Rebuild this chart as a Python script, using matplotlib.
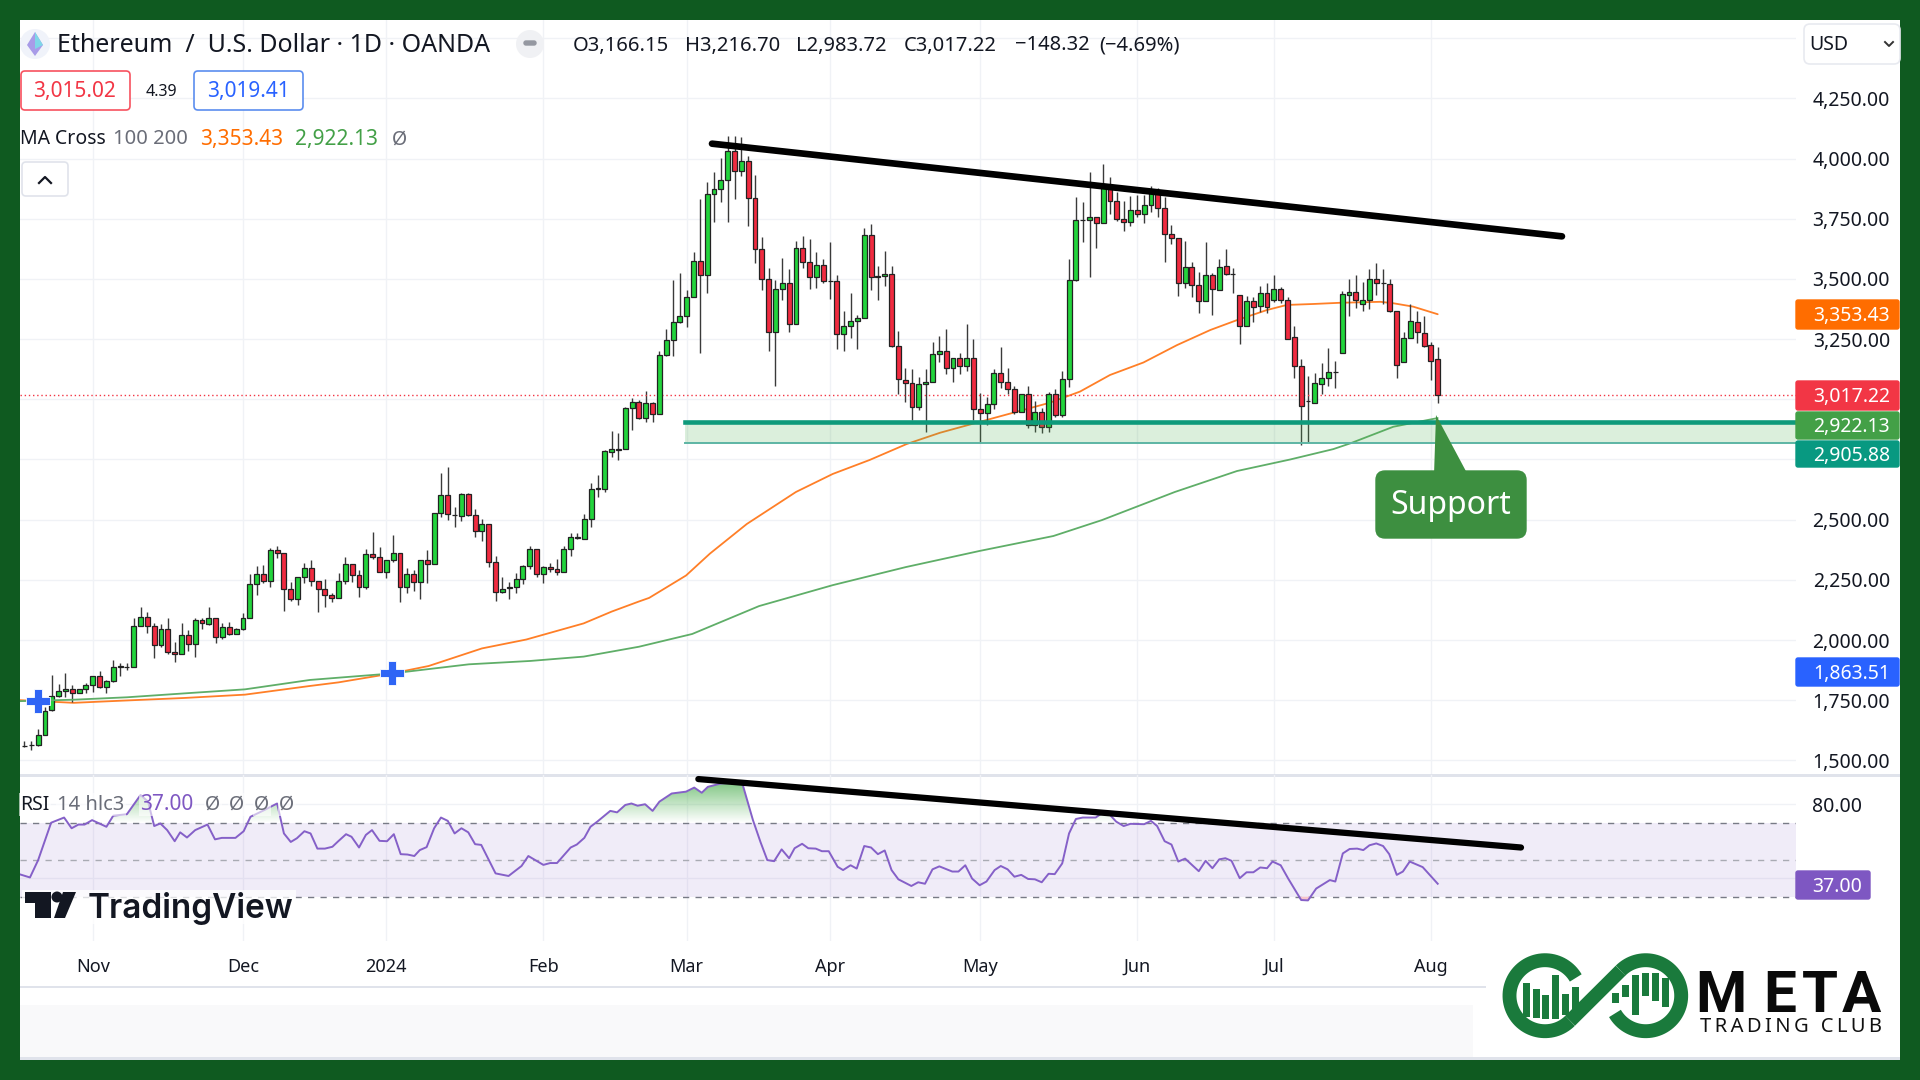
# ETH/USD daily chart with MA cross and RSI pane
import numpy as np
import matplotlib
matplotlib.use('Agg')
import matplotlib.pyplot as plt
from matplotlib.patches import Rectangle, FancyBboxPatch, Polygon, Circle, PathPatch
from matplotlib.path import Path

plt.rcParams['font.family'] = ['Noto Sans', 'DejaVu Sans']

# candles, one row of values per day
opens = [1558,1563,1563,1605,1709,1768,1788,1798,1778,1798,1811,1852,1803,1829,1889,1889,1886,2058,2097,2059,
         1979,2044,1951,1942,2022,1983,2083,2068,2091,2011,2052,2026,2044,2091,2231,2273,2245,2372,2363,2213,
         2170,2260,2298,2246,2213,2185,2176,2246,2316,2270,2221,2357,2343,2282,2334,2363,2221,2273,2241,2334,
         2314,2526,2601,2520,2516,2606,2520,2451,2483,2325,2198,2218,2219,2255,2307,2376,2273,2302,2293,2282,
         2376,2424,2421,2503,2628,2627,2782,2791,2792,2965,2987,2924,2983,2937,3184,3245,3320,3347,3426,3576,
         3515,3852,3875,3912,4030,3950,3991,3838,3623,3501,3278,3460,3482,3311,3627,3572,3507,3558,3493,3493,
         3273,3306,3324,3338,3684,3511,3511,3520,3221,3080,3066,2969,3062,3070,3188,3202,3129,3173,3138,3173,
         2961,2942,2982,3108,3072,3044,2946,3020,2892,2949,2886,3020,2936,3086,3495,3745,3745,3759,3731,3883,
         3824,3749,3735,3786,3768,3806,3860,3796,3688,3670,3483,3548,3473,3408,3515,3455,3552,3521,3432,3306,
         3408,3389,3440,3412,3459,3412,3259,3137,2994,2983,3062,3090,3113,3194,3432,3444,3394,3412,3501,3483,
         3477,3365,3156,3253,3320,3274,3225,3166]
highs = [1581,1581,1629,1723,1854,1817,1864,1813,1798,1820,1852,1872,1834,1917,1903,1906,2090,2136,2116,2069,
         2066,2092,1990,2069,2041,2090,2090,2136,2091,2072,2073,2048,2111,2274,2309,2311,2383,2392,2363,2242,
         2260,2318,2331,2246,2252,2194,2280,2346,2316,2291,2378,2447,2388,2334,2435,2363,2298,2291,2334,2374,
         2526,2692,2717,2551,2612,2612,2545,2504,2483,2349,2260,2242,2280,2311,2392,2376,2307,2321,2335,2390,
         2443,2446,2522,2653,2685,2789,2868,2858,2969,3004,2997,3036,2990,3201,3292,3496,3523,3454,3610,3831,
         3901,3943,4004,4094,4094,4088,4012,3932,3676,3544,3496,3586,3540,3658,3680,3666,3610,3583,3652,3516,
         3368,3443,3350,3710,3728,3555,3616,3555,3284,3129,3126,3094,3124,3237,3264,3292,3173,3191,3313,3250,
         3027,3008,3126,3219,3129,3057,3020,3057,2993,2962,3032,3041,3119,3581,3839,3821,3946,3759,3976,3922,
         3862,3825,3845,3849,3849,3886,3876,3842,3723,3670,3659,3572,3530,3652,3526,3581,3624,3544,3432,3429,
         3423,3471,3484,3518,3465,3423,3306,3166,3097,3110,3149,3213,3159,3448,3498,3516,3489,3540,3565,3540,
         3498,3365,3281,3394,3368,3347,3239,3217]
lows = [1557,1543,1561,1605,1706,1764,1764,1744,1778,1781,1785,1799,1778,1827,1852,1875,1886,2058,2030,1926,
        1969,1942,1907,1942,1955,1931,2044,2062,1986,2003,2020,2025,2041,2090,2187,2235,2221,2342,2122,2163,
        2145,2235,2224,2118,2137,2159,2176,2231,2242,2177,2210,2336,2282,2257,2323,2159,2196,2205,2169,2235,
        2314,2509,2498,2468,2496,2515,2426,2413,2304,2163,2196,2169,2196,2232,2296,2263,2238,2284,2268,2282,
        2350,2418,2418,2471,2593,2616,2761,2748,2792,2872,2918,2907,2907,2937,3180,3181,3316,3302,3426,3191,
        3440,3738,3821,3738,3832,3929,3720,3565,3454,3202,3057,3413,3281,3311,3544,3458,3464,3482,3417,3209,
        3202,3253,3209,3338,3454,3413,3472,3219,3022,2990,2914,2955,2865,3070,3154,3105,3070,3104,3119,2914,
        2817,2893,2960,3048,3022,2937,2946,2879,2865,2861,2865,2928,2928,3052,3491,3655,3509,3627,3731,3770,
        3742,3700,3720,3756,3734,3779,3756,3569,3645,3430,3464,3426,3360,3408,3350,3454,3516,3443,3228,3306,
        3322,3361,3360,3405,3399,3249,3088,2810,2822,2983,3020,3056,3047,3194,3347,3378,3368,3374,3433,3396,
        3361,3090,3156,3253,3232,3218,3080,2984]
closes = [1560,1565,1605,1706,1768,1788,1798,1778,1798,1811,1852,1803,1829,1889,1890,1887,2058,2097,2058,1979,
          2044,1951,1942,2022,1983,2083,2069,2093,2011,2054,2026,2044,2091,2231,2273,2245,2372,2363,2213,2170,
          2260,2298,2246,2213,2185,2176,2246,2316,2270,2221,2357,2343,2282,2334,2363,2221,2273,2241,2334,2314,
          2526,2601,2522,2518,2606,2519,2451,2483,2325,2199,2213,2219,2255,2307,2376,2273,2302,2293,2282,2376,
          2426,2426,2501,2629,2630,2784,2792,2793,2965,2987,2924,2983,2937,3184,3245,3320,3347,3426,3576,3515,
          3852,3875,3912,4030,3950,3991,3838,3623,3501,3278,3460,3482,3311,3627,3572,3507,3558,3493,3492,3273,
          3306,3324,3338,3684,3507,3510,3520,3221,3083,3066,2969,3062,3070,3188,3202,3129,3173,3138,3173,2961,
          2942,2982,3108,3072,3044,2946,3020,2892,2949,2886,3020,2936,3086,3497,3745,3746,3759,3731,3883,3824,
          3749,3735,3786,3768,3806,3860,3796,3688,3670,3483,3548,3473,3408,3515,3459,3548,3520,3520,3306,3408,
          3385,3440,3382,3459,3414,3252,3137,2973,2993,3068,3090,3113,3114,3436,3444,3412,3412,3501,3482,3482,
          3368,3141,3253,3324,3278,3221,3160,3017]

# moving averages, picked up along each curve
ma100_idx = [-0.66,7.2,14.3,23.3,32.3,41.8,46,53.8,59.2,67,73.5,81.9,86,90,91.5,96.9,100.4,105.8,113,118.4,123.8,
             129.2,134.1,140,144.8,150.2,154.6,159,163.9,168.8,173.7,177.6,182,184.9,188.8,192.7,198.6,200.5,203.4,207]
ma100_val = [1750,1739,1748,1759,1773,1809,1824,1861,1892,1965,2002,2069,2118,2160,2175,2268,2359,2482,2615,2690,2748,
             2814,2861,2907,2944,2986,3032,3101,3153,3225,3288,3329,3371,3392,3396,3401,3405,3399,3385,3353.43]
ma200_idx = [-0.66,7.2,15,23.3,32.3,41.8,53.8,65.1,74.1,81.9,90,97.8,107.6,118.4,129.1,139.9,150.7,157.8,168.5,177.6,
             185.4,191.7,194.2,200.5,207]
ma200_val = [1746,1752,1762,1778,1795,1834,1861,1899,1913,1931,1972,2025,2141,2228,2303,2370,2432,2498,2615,2702,
             2750,2793,2817,2886,2922.13]
cross_idx = [2, 53.8]
cross_val = [1747, 1863.51]

rsi_idx = [-0.6,0.8,2,3.9,5.8,6.9,7.9,8.8,9.9,12,13,15,17,18.1,19,19.9,20.9,22,22.8,23.8,25,26.8,27.9,28.9,30.9,32.1,33.1,
           35.1,37,38,39,39.9,41,41.9,42.9,44,45.1,45.9,47.1,47.9,49,50,50.9,52,53.1,54.1,55.1,56.1,57.1,57.9,58.9,60,61,
           62,63,64,65,66,66.9,69,70.9,72.8,73.8,76,77,78,80,80.9,82,82.9,83.9,85.8,86.8,88,88.9,89.8,90.9,92,93,94.8,96.9,
           98.1,99.2,100.1,102,105.1,106.7,107.8,108.8,109.8,110.9,112,112.8,113.9,114.8,115.9,116.8,117.8,119.1,119.9,
           121,121.9,123,124,125,126,127,128,129.9,130.9,131.9,133,134,135.9,136.8,137.8,138.8,139.9,140.9,142.1,143,144,
           145,146,147,148,149,150,150.9,152,153,154,155,156.9,158,159,159.9,161,162,164,165,165.9,167,168,169,170,172,173,
           174,175,175.9,176.8,178,179,180,181,182,182.8,184,185.1,187,188,189.2,191.2,192,193.1,194.1,195.2,196.1,197,
           198,199,199.9,201,201.9,202.9,204.8,207]
rsi_val = [42,40.4,49.8,70,72.8,67,69,69,71.4,67.8,73.8,74.6,85,81.4,68.2,69.6,66,60,64.8,62,66,69,61,61.8,61.8,65.4,73.2,
           76.8,80.4,64.2,59.6,61.6,65.4,64.2,56,56,57,59.8,63.8,62.4,56.6,63.4,66,60.2,60,63.8,53,52.8,52,55.2,56.8,67,72.8,
           71,64.2,67,64.8,58.4,58,42.6,41.2,46.6,52,47.2,48.2,48.2,56.6,58.2,61.8,67.8,70.6,76.4,75.6,79.6,80.4,79.2,80,
           76.4,81.4,85.8,86.8,89,86.2,89.4,91.2,91.8,71.4,59.6,49.8,49.2,55.6,50.8,56.2,58.6,56.2,56,54.6,54.6,46.2,44.4,
           47,45.2,57.4,56.6,53,55,44.4,39.4,35.8,37.8,37,44.8,46.4,43.6,43.6,47,39.8,36.2,38.2,44.4,46.6,44.8,
           40.8,41.8,39.6,39.4,37.8,42.4,42.2,48,64.2,72,72.8,72.8,75.6,74.2,70.6,68.2,69.4,69.2,71,68.2,60,58.2,49,50.6,43.8,49.4,
           45.4,50.2,50.8,49.4,40,43.2,43.2,45.8,45.4,49,47,39.8,28.2,28,34.4,39,38.2,53.4,55.8,56,55.2,57.8,
           58.8,57.4,53,41.8,43.6,49,46,37]

price_ticks = [1500,1750,2000,2250,2500,2750,3000,3250,3500,3750,4000,4250,4500]
price_labels = ['1,500.00','1,750.00','2,000.00','2,250.00','2,500.00','','','3,250.00','3,500.00','3,750.00','4,000.00','4,250.00','']
month_idx = [10,32,53,76,97,118,140,163,183,206]
month_labels = ['Nov','Dec','2024','Feb','Mar','Apr','May','Jun','Jul','Aug']

last_price = 3017.22
zone_top, zone_bottom = 2905.88, 2817
zone_start = 96.7
price_trend_idx = [100.7, 225.2]
price_trend_val = [4062, 3677]
rsi_trend_idx = [98.7, 219.2]
rsi_trend_val = [93.6, 56.6]

W, H = 1920, 1080
DARK = '#131722'
GREY = '#6A6D78'
GRID = '#F0F2F6'
FRAME = '#0F5A20'
LAV = '#E0E3EB'


def pane(x0, y0, x1, y1, z):
    a = fig.add_axes([x0/W, 1-y1/H, (x1-x0)/W, (y1-y0)/H], zorder=z)
    a.patch.set_alpha(0)
    for s in a.spines.values():
        s.set_visible(False)
    return a


def tag(x0, y0, x1, y1, color, label, right):
    ov.add_patch(FancyBboxPatch((x0, y0+1), x1-x0-2, y1-y0-2, boxstyle='round,pad=0,rounding_size=2', fc=color, ec=color, lw=1))
    ov.text(right, (y0+y1)/2-1, label, color='white', fontsize=14, ha='right', va='center_baseline', fontweight='semibold')


fig = plt.figure(figsize=(W/100, H/100), dpi=100, facecolor=FRAME)

# white page and the strips under the chart
bg = pane(0, 0, W, H, 0)
bg.set_xlim(0, W)
bg.set_ylim(H, 0)
bg.axis('off')
bg.add_patch(Rectangle((20, 20), 1880, 1040, fc='white', ec='none'))
bg.add_patch(Rectangle((20, 1005), 1453, 52, fc='#F9F9FA', ec='none'))
bg.add_patch(Rectangle((20, 1057), 1880, 3, fc=LAV, ec='none'))
bg.add_patch(Rectangle((20, 986), 1466, 2, fc=LAV, ec='none'))
bg.add_patch(Rectangle((20, 774), 1880, 2.5, fc=LAV, ec='none'))

# price pane
ax = pane(20, 20, 1796, 774, 1)
idx = np.arange(len(opens))
o = np.array(opens, dtype=float)
c = np.array(closes, dtype=float)
up = c >= o
ax.vlines(month_idx, 1000, 5000, color=GRID, lw=1, zorder=1)
ax.hlines(price_ticks, -5, 300, color=GRID, lw=1, zorder=1)
ax.plot(ma100_idx, ma100_val, color='#FF7F27', lw=1.3, zorder=2, solid_capstyle='round')
ax.vlines(idx, lows, highs, color='#3A3A3A', lw=1, zorder=3)
ax.bar(idx[up], (c-o)[up], bottom=o[up], width=0.72, color='#22D43C', edgecolor='#222222', lw=0.9, zorder=4)
ax.bar(idx[~up], (c-o)[~up], bottom=o[~up], width=0.72, color='#F02B40', edgecolor='#222222', lw=0.9, zorder=4)
ax.plot(ma200_idx, ma200_val, color='#5FAE68', lw=1.3, zorder=5, solid_capstyle='round')
ax.axhline(last_price, color='#F23645', lw=1, ls=(0, (1, 2)), zorder=3)
ax.add_patch(Rectangle((zone_start, zone_bottom), 300, zone_top-zone_bottom, fc='#4CAF50', alpha=0.2, ec='none', zorder=5))
ax.plot([zone_start, 300], [zone_bottom, zone_bottom], color='#5DB5A4', lw=1.4, zorder=5)
ax.plot([zone_start, 300], [zone_top, zone_top], color='#0E9A7B', lw=3.3, zorder=6)
ax.plot(price_trend_idx, price_trend_val, color='black', lw=4.8, solid_capstyle='round', zorder=7)
ax.plot(cross_idx, cross_val, ls='none', marker='P', ms=17, color='#2F65F5', mec='white', mew=0.6, zorder=8)
ax.set_xlim(-0.659, 259.48)
ax.set_ylim(1443.3, 4575.8)
ax.yaxis.tick_right()
ax.set_yticks(price_ticks)
ax.set_yticklabels(price_labels, ha='right', va='center_baseline', color=DARK, fontsize=14)
ax.tick_params(axis='y', length=0, pad=67.7)
ax.set_xticks([])

# rsi pane
rx = pane(20, 775, 1796, 941, 1)
rsi_x = np.array(rsi_idx)
rsi_y = np.array(rsi_val)
rx.vlines(month_idx, 0, 100, color=GRID, lw=1, zorder=1)
rx.hlines([40, 80], -5, 300, color=GRID, lw=1, zorder=1)
rx.axhspan(30, 70, fc='#7E57C2', alpha=0.11, ec='none', zorder=1)
for lvl in [70, 50, 30]:
    rx.axhline(lvl, color='#787B86' if lvl != 50 else '#A9ABB3', lw=1, ls=(0, (4.5, 4.5)), zorder=2)
grad = np.zeros((64, 2, 4))
grad[..., :3] = matplotlib.colors.to_rgb('#4CAF50')
grad[..., 3] = np.linspace(0.72, 0, 64)[:, None]
im = rx.imshow(grad, extent=[-1, 260, 70, 92.5], aspect='auto', zorder=2, interpolation='bilinear')
above = rx.fill_between(rsi_x, rsi_y, 70, where=rsi_y > 70, interpolate=True, facecolor='none', edgecolor='none')
im.set_clip_path(PathPatch(Path.make_compound_path(*above.get_paths()), transform=rx.transData))
rx.fill_between(rsi_x, rsi_y, 30, where=rsi_y < 30, interpolate=True, facecolor='#F7C5CB', edgecolor='none', zorder=2)
rx.plot(rsi_x, rsi_y, color='#8560C8', lw=1.4, zorder=3)
rx.plot(rsi_trend_idx, rsi_trend_val, color='black', lw=4.5, solid_capstyle='round', zorder=4, clip_on=False)
rx.set_xlim(-0.659, 259.48)
rx.set_ylim(6.05, 95.8)
rx.set_yticks([])
rx.set_xticks(month_idx)
rx.set_xticklabels(month_labels, color=DARK, fontsize=13)
rx.get_xticklabels()[2].set_fontweight('bold')
rx.tick_params(axis='x', length=0, pad=12)

# overlay in pixels for tags, legends and logos
ov = pane(0, 0, W, H, 5)
ov.set_xlim(0, W)
ov.set_ylim(H, 0)
ov.axis('off')

tag(1796, 299, 1901, 330, '#FF6D00', '3,353.43', 1890)
tag(1796, 380, 1901, 411, '#F23645', '3,017.22', 1890)
tag(1796, 411, 1901, 440, '#43A047', '2,922.13', 1890)
tag(1796, 440, 1901, 468, '#089981', '2,905.88', 1890)
tag(1796, 657, 1901, 687, '#2962FF', '1,863.51', 1890)
tag(1796, 870, 1872, 900, '#7E57C2', '37.00', 1862)
ov.text(1862, 804, '80.00', color=DARK, fontsize=14, ha='right', va='center_baseline')

# header
ov.add_patch(Circle((35, 44), 15, fc='#F0F3FA', ec='none'))
ov.add_patch(Polygon([(35, 32), (43, 45), (35, 56), (27, 45)], fc='#A89BE8', ec='none'))
ov.add_patch(Polygon([(35, 32), (43, 45), (35, 49)], fc='#7FD6E8', ec='none'))
ov.text(57, 42, 'Ethereum  /  U.S. Dollar · 1D · OANDA', color=DARK, fontsize=18, va='center_baseline')
ov.add_patch(Circle((530, 44), 14, fc='#F0F1F4', ec='none'))
ov.add_patch(FancyBboxPatch((524, 41), 12, 4, boxstyle='round,pad=0,rounding_size=2', fc='#9598A1', ec='#9598A1', lw=1))
for x, s in [(572.6, 'O3,166.15'), (685.4, 'H3,216.70'), (796.5, 'L2,983.72'), (904, 'C3,017.22'), (1014.5, '−148.32'), (1099, '(−4.69%)')]:
    ov.text(x, 43, s, color=DARK, fontsize=14.5, va='center_baseline')

ov.add_patch(FancyBboxPatch((21, 71), 109, 39, boxstyle='round,pad=0,rounding_size=4', fc='white', ec='#F7525F', lw=1.2))
ov.text(75, 89.5, '3,015.02', color='#F23645', fontsize=15, ha='center', va='center_baseline')
ov.text(161, 89.5, '4.39', color=DARK, fontsize=11.5, ha='center', va='center_baseline')
ov.add_patch(FancyBboxPatch((194, 71), 109, 39, boxstyle='round,pad=0,rounding_size=4', fc='white', ec='#5B8DEF', lw=1.2))
ov.text(248, 89.5, '3,019.41', color='#2962FF', fontsize=15, ha='center', va='center_baseline')

ov.text(20, 137, 'MA Cross', color=DARK, fontsize=14, va='center_baseline')
ov.text(113, 137, '100 200', color=GREY, fontsize=14.5, va='center_baseline')
ov.text(200, 137, '3,353.43', color='#FF6D00', fontsize=15, va='center_baseline')
ov.text(295, 137, '2,922.13', color='#43A047', fontsize=15, va='center_baseline')
ov.text(392, 137, 'Ø', color=GREY, fontsize=14, va='center_baseline')
ov.add_patch(FancyBboxPatch((22, 162), 46, 34, boxstyle='round,pad=0,rounding_size=4', fc='white', ec=LAV, lw=1.2))
ov.plot([39, 45, 51], [183, 177, 183], color=DARK, lw=1.6)

# currency selector
ov.add_patch(FancyBboxPatch((1804, 24), 96, 40, boxstyle='round,pad=0,rounding_size=6', fc='white', ec='#E8EAF0', lw=1.2))
ov.text(1809, 43, 'USD', color=DARK, fontsize=14, va='center_baseline')
ov.plot([1885, 1889, 1893], [42, 46, 42], color='#333333', lw=1.4)

# rsi legend
leg_box = dict(fc='white', ec='none', alpha=0.6, pad=1)
ov.text(20, 802, 'RSI', color=DARK, fontsize=14, va='center_baseline', bbox=leg_box)
ov.text(57, 802, '14 hlc3', color=GREY, fontsize=14.5, va='center_baseline', bbox=leg_box)
ov.text(140, 802, '37.00', color='#7E57C2', fontsize=15, va='center_baseline', bbox=leg_box)
for x in [205, 229, 254, 279]:
    ov.text(x, 802, 'Ø', color=GREY, fontsize=14, va='center_baseline', bbox=leg_box)

# TradingView mark
ov.add_patch(Rectangle((22, 890), 274, 34, fc='white', alpha=0.75, ec='none'))
ov.add_patch(Polygon([(25, 892), (51, 892), (51, 918), (35, 918), (35, 903), (25, 903)], fc=DARK, ec='none'))
ov.add_patch(Circle((57, 897), 5.5, fc=DARK, ec='none'))
ov.add_patch(Polygon([(63, 892), (76, 892), (65, 918), (54, 918)], fc=DARK, ec='none'))
ov.text(88, 905, 'TradingView', color=DARK, fontsize=24, fontweight='semibold', family=['Inter', 'DejaVu Sans'], va='center_baseline')

# support callout
ov.add_patch(Polygon([(1436, 415), (1434, 475), (1468, 475)], fc='#3D8F40', ec='none'))
ov.add_patch(FancyBboxPatch((1376, 471), 150, 67, boxstyle='round,pad=0,rounding_size=9', fc='#3D8F40', ec='#3D8F40', lw=1))
ov.text(1451, 501, 'Support', color='white', fontsize=23, ha='center', va='center_baseline')

# Meta Trading Club logo
ov.add_patch(Rectangle((1486, 920), 414, 137, fc='white', ec='none'))
LOGO = '#1A7A3C'
lx, rx_c, ly, rr = 1545, 1645.7, 995.7, 35.5
t1 = np.radians(np.linspace(30, 315, 80))
t2 = np.radians(np.linspace(135, -150, 80))
ov.plot(lx+rr*np.cos(t1), ly-rr*np.sin(t1), color=LOGO, lw=10, solid_capstyle='butt')
ov.plot(rx_c+rr*np.cos(t2), ly-rr*np.sin(t2), color=LOGO, lw=10, solid_capstyle='butt')
ov.plot([lx+rr*np.cos(np.radians(315)), rx_c+rr*np.cos(np.radians(135))],
        [ly-rr*np.sin(np.radians(315)), ly-rr*np.sin(np.radians(135))], color=LOGO, lw=10, solid_capstyle='butt')
for x, top, bot in [(1523, 983, 1017), (1533, 989, 1018), (1542, 995, 1019), (1552, 975, 1019), (1562, 994, 1015), (1572, 987, 1010)]:
    ov.add_patch(Rectangle((x, top), 7, bot-top, fc=LOGO, ec='none'))
for x, top, bot in [(1612, 993, 1003), (1622, 985, 997), (1632, 975, 1015), (1642, 973, 996), (1652, 973, 1001), (1662, 978, 1007)]:
    ov.add_patch(Rectangle((x, top), 7, bot-top, fc=LOGO, ec='none'))
for x, ch in [(1721, 'M'), (1780, 'E'), (1820, 'T'), (1861, 'A')]:
    ov.text(x, 990, ch, color='#0A0A0A', fontsize=42, fontweight='bold', family=['Roboto', 'DejaVu Sans'], ha='center', va='center_baseline')
ov.text(1791, 1024, '\u2009'.join('TRADING CLUB'), color='#111111', fontsize=14.5, fontweight='semibold', ha='center', va='center_baseline')

fig.savefig('out.png', dpi=100, facecolor=FRAME)
